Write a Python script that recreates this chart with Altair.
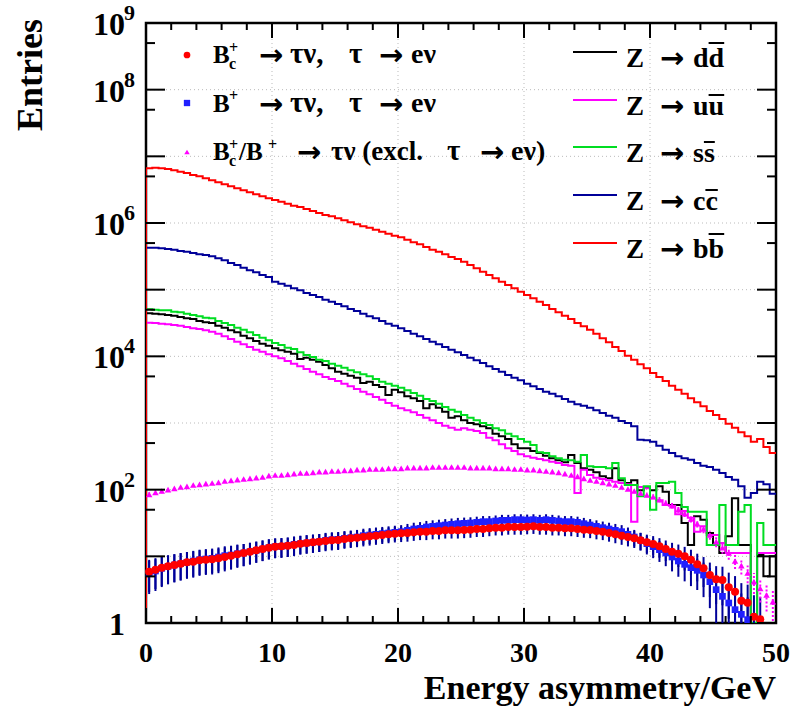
import altair as alt
import pandas as pd

# ---------------- data ----------------
# 100 bins of 0.5 GeV between 0 and 50 GeV; contents given as log10(entries)
BIN_WIDTH = 0.5
N_BINS = 100

z_dd_log10 = [
    4.645, 4.64, 4.63, 4.62, 4.61, 4.59, 4.57, 4.56, 4.53, 4.51,
    4.50, 4.46, 4.43, 4.39, 4.36, 4.31, 4.27, 4.23, 4.19, 4.16,
    4.12, 4.09, 4.07, 4.04, 3.96, 3.98, 3.95, 3.92, 3.87, 3.82,
    3.77, 3.74, 3.71, 3.68, 3.60, 3.62, 3.57, 3.54, 3.42, 3.50,
    3.46, 3.40, 3.37, 3.33, 3.22, 3.28, 3.23, 3.17, 3.08, 3.10,
    3.04, 3.00, 2.98, 2.95, 2.92, 2.84, 2.80, 2.76, 2.68, 2.62,
    2.62, 2.58, 2.55, 2.51, 2.47, 2.44, 2.41, 2.52, 2.40, 2.32,
    2.30, 2.26, 2.20, 2.17, 2.32, 2.14, 2.10, 2.14, 1.99, 2.04,
    1.99, 2.05, 1.97, 1.77, 1.77, 1.50, 1.17, 1.60, 1.55, 1.35,
    1.17, 1.05, 1.30, 1.87, 1.17, 1.17, 0.00, 1.02, 0.70, 1.00,
]
z_uu_log10 = [
    4.505, 4.50, 4.49, 4.48, 4.47, 4.46, 4.44, 4.42, 4.41, 4.39,
    4.37, 4.34, 4.30, 4.26, 4.22, 4.18, 4.14, 4.10, 4.07, 4.03,
    4.00, 3.97, 3.93, 3.89, 3.85, 3.81, 3.77, 3.73, 3.69, 3.66,
    3.63, 3.59, 3.55, 3.51, 3.47, 3.43, 3.39, 3.35, 3.30, 3.26,
    3.22, 3.19, 3.16, 3.12, 3.08, 3.04, 3.00, 2.96, 2.93, 2.90,
    2.92, 2.90, 2.88, 2.85, 2.78, 2.74, 2.68, 2.62, 2.58, 2.53,
    2.50, 2.48, 2.46, 2.44, 2.42, 2.40, 2.37, 2.36, 1.95, 2.30,
    2.22, 2.18, 2.16, 2.14, 2.12, 2.10, 2.08, 1.52, 2.04, 2.02,
    1.87, 1.84, 1.77, 1.76, 1.63, 1.68, 1.58, 1.37, 1.45, 1.32,
    1.32, 1.20, 1.05, 1.05, 1.05, 1.05, 0.00, 1.05, 1.05, 1.05,
]
z_ss_log10 = [
    4.705, 4.70, 4.69, 4.69, 4.67, 4.66, 4.64, 4.62, 4.60, 4.58,
    4.57, 4.53, 4.50, 4.47, 4.43, 4.40, 4.36, 4.32, 4.28, 4.24,
    4.20, 4.17, 4.13, 4.11, 4.06, 4.02, 3.99, 3.95, 3.93, 3.89,
    3.86, 3.83, 3.79, 3.76, 3.73, 3.70, 3.66, 3.62, 3.59, 3.56,
    3.53, 3.49, 3.45, 3.41, 3.36, 3.33, 3.29, 3.24, 3.20, 3.17,
    3.12, 3.08, 3.04, 3.00, 2.97, 2.92, 2.89, 2.84, 2.80, 2.76,
    2.72, 2.67, 2.56, 2.55, 2.50, 2.47, 2.45, 2.44, 2.42, 2.52,
    2.35, 2.34, 2.34, 2.32, 2.40, 2.17, 2.07, 2.07, 1.90, 2.05,
    1.70, 2.10, 2.10, 2.12, 1.95, 1.74, 1.67, 1.67, 1.67, 1.17,
    1.17, 1.77, 1.17, 1.17, 1.67, 1.77, 0.00, 1.50, 1.17, 1.17,
]
z_cc_log10 = [
    5.63, 5.63, 5.62, 5.61, 5.60, 5.58, 5.57, 5.55, 5.53, 5.52,
    5.50, 5.47, 5.44, 5.40, 5.37, 5.33, 5.29, 5.26, 5.22, 5.19,
    5.12, 5.09, 5.06, 5.02, 4.99, 4.95, 4.92, 4.89, 4.85, 4.82,
    4.785, 4.75, 4.71, 4.68, 4.64, 4.60, 4.57, 4.53, 4.49, 4.46,
    4.42, 4.38, 4.34, 4.30, 4.26, 4.22, 4.18, 4.14, 4.10, 4.06,
    4.02, 3.98, 3.94, 3.90, 3.85, 3.81, 3.77, 3.72, 3.68, 3.64,
    3.59, 3.55, 3.51, 3.47, 3.44, 3.40, 3.36, 3.32, 3.28, 3.26,
    3.23, 3.19, 3.15, 3.11, 3.08, 3.03, 3.00, 2.95, 2.75, 2.74,
    2.72, 2.66, 2.60, 2.55, 2.50, 2.47, 2.45, 2.40, 2.36, 2.34,
    2.30, 2.25, 2.19, 2.15, 2.05, 1.88, 1.95, 2.12, 2.08, 1.94,
]
z_bb_log10 = [
    6.82, 6.83, 6.82, 6.81, 6.79, 6.77, 6.75, 6.72, 6.70, 6.67,
    6.64, 6.61, 6.58, 6.55, 6.52, 6.49, 6.46, 6.43, 6.40, 6.37,
    6.345, 6.32, 6.29, 6.26, 6.24, 6.21, 6.18, 6.15, 6.12, 6.10,
    6.07, 6.04, 6.01, 5.98, 5.95, 5.93, 5.90, 5.87, 5.84, 5.81,
    5.785, 5.75, 5.71, 5.68, 5.64, 5.60, 5.57, 5.53, 5.49, 5.46,
    5.42, 5.37, 5.32, 5.27, 5.22, 5.17, 5.12, 5.07, 5.02, 4.97,
    4.92, 4.87, 4.82, 4.77, 4.71, 4.66, 4.61, 4.56, 4.50, 4.45,
    4.40, 4.34, 4.27, 4.21, 4.14, 4.08, 4.01, 3.95, 3.88, 3.82,
    3.75, 3.69, 3.63, 3.56, 3.50, 3.44, 3.37, 3.31, 3.25, 3.18,
    3.12, 3.06, 2.99, 2.93, 2.86, 2.80, 2.72, 2.76, 2.64, 2.55,
]
# signal samples (points at bin centres), log10(entries); None = empty bin
bc_taunu_log10 = [
    0.77, 0.80, 0.83, 0.85, 0.87, 0.89, 0.91, 0.92, 0.94, 0.95,
    0.955, 0.97, 0.99, 1.01, 1.03, 1.05, 1.07, 1.09, 1.11, 1.13,
    1.145, 1.15, 1.16, 1.17, 1.19, 1.20, 1.21, 1.22, 1.23, 1.24,
    1.245, 1.26, 1.27, 1.28, 1.29, 1.30, 1.31, 1.32, 1.33, 1.34,
    1.345, 1.35, 1.36, 1.37, 1.37, 1.38, 1.38, 1.39, 1.39, 1.39,
    1.395, 1.40, 1.41, 1.41, 1.42, 1.43, 1.43, 1.44, 1.44, 1.44,
    1.445, 1.45, 1.44, 1.44, 1.43, 1.43, 1.42, 1.42, 1.41, 1.40,
    1.395, 1.38, 1.37, 1.35, 1.33, 1.31, 1.29, 1.27, 1.24, 1.21,
    1.185, 1.15, 1.11, 1.07, 1.04, 1.00, 0.95, 0.88, 0.82, 0.72,
    0.655, 0.645, 0.535, 0.47, 0.335, 0.305, 0.095, 0.055, None, None,
]
bu_taunu_log10 = [
    0.75, 0.78, 0.82, 0.85, 0.87, 0.89, 0.91, 0.93, 0.95, 0.96,
    0.97, 0.99, 1.01, 1.02, 1.04, 1.05, 1.07, 1.09, 1.11, 1.13,
    1.145, 1.15, 1.16, 1.18, 1.19, 1.20, 1.21, 1.22, 1.24, 1.25,
    1.255, 1.27, 1.28, 1.29, 1.31, 1.32, 1.33, 1.34, 1.35, 1.36,
    1.37, 1.39, 1.41, 1.42, 1.44, 1.45, 1.46, 1.47, 1.48, 1.49,
    1.495, 1.50, 1.51, 1.52, 1.52, 1.53, 1.54, 1.54, 1.55, 1.55,
    1.545, 1.55, 1.54, 1.55, 1.54, 1.53, 1.52, 1.52, 1.51, 1.49,
    1.47, 1.45, 1.43, 1.41, 1.39, 1.37, 1.33, 1.29, 1.24, 1.19,
    1.145, 1.10, 1.05, 0.99, 0.93, 0.88, 0.83, 0.79, 0.72, 0.62,
    0.50, 0.40, 0.30, 0.20, 0.13, 0.05, None, None, None, None,
]
b_excl_log10 = [
    1.93, 1.96, 1.98, 2.00, 2.02, 2.04, 2.05, 2.07, 2.08, 2.09,
    2.10, 2.11, 2.13, 2.14, 2.15, 2.16, 2.17, 2.18, 2.19, 2.21,
    2.22, 2.22, 2.23, 2.24, 2.25, 2.25, 2.26, 2.27, 2.27, 2.28,
    2.28, 2.29, 2.29, 2.30, 2.30, 2.31, 2.31, 2.31, 2.32, 2.32,
    2.32, 2.33, 2.33, 2.33, 2.33, 2.34, 2.34, 2.34, 2.34, 2.34,
    2.34, 2.33, 2.33, 2.33, 2.33, 2.32, 2.32, 2.32, 2.31, 2.31,
    2.30, 2.30, 2.29, 2.28, 2.27, 2.26, 2.24, 2.22, 2.20, 2.17,
    2.145, 2.13, 2.11, 2.09, 2.07, 2.04, 2.01, 1.98, 1.95, 1.92,
    1.895, 1.85, 1.80, 1.76, 1.70, 1.64, 1.56, 1.49, 1.41, 1.32,
    1.22, 1.13, 1.05, 0.93, 0.86, 0.75, 0.62, 0.52, 0.42, 0.32,
]
# per-entry weights of the signal histograms (error = sqrt(weight * content))
signal_weight = {"bc": 1.5, "bu": 1.5, "excl": 0.5}

hist_names = ["dd", "uu", "ss", "cc", "bb"]
hist_colors = ["#000000", "#ff00ff", "#00dd22", "#000099", "#ff0000"]
hist_series = [z_dd_log10, z_uu_log10, z_ss_log10, z_cc_log10, z_bb_log10]

x_label_values = [0, 10, 20, 30, 40, 50]
x_minor_ticks = [2, 4, 6, 8, 12, 14, 16, 18, 22, 24, 26, 28, 32, 34, 36, 38, 42, 44, 46, 48]
y_major_ticks = [1, 1e1, 1e2, 1e3, 1e4, 1e5, 1e6, 1e7, 1e8, 1e9]
y_minor_ticks = [5, 5e1, 5e2, 5e3, 5e4, 5e5, 5e6, 5e7, 5e8]
x_grid = [10, 20, 30, 40]
y_grid = [1e1, 1e2, 1e3, 1e4, 1e5, 1e6, 1e7, 1e8]
y_label_values = [1e9, 1e8, 1e6, 1e4, 1e2, 1]
y_label_base = ["10", "10", "10", "10", "10", "1"]
y_label_exp = ["9", "8", "6", "4", "2", ""]

# ---------------- geometry ----------------
W, H = 630, 600
L, T = 146, 23
FONT = "Liberation Serif"
ARROW_FONT = "DejaVu Sans"
ONE = alt.Data(values=[{"a": 1}])

xs = alt.Scale(domain=[0, 50], nice=False, zero=False)
ys = alt.Scale(type="log", domain=[1, 1e9], nice=False)

# ---------------- tables ----------------
hist_rows = []
for name, ser in zip(hist_names, hist_series):
    vals = [10 ** v for v in ser]
    hist_rows.append({"s": name, "x": 0.0, "y": 1.0, "o": -1})
    for i, v in enumerate(vals):
        hist_rows.append({"s": name, "x": i * BIN_WIDTH, "y": v, "o": i})
    hist_rows.append({"s": name, "x": N_BINS * BIN_WIDTH, "y": vals[-1], "o": N_BINS})
hist_df = pd.DataFrame(hist_rows)


def point_table(series, w):
    rows = []
    for i, lv in enumerate(series):
        if lv is None:
            continue
        v = 10 ** lv
        e = (w * v) ** 0.5
        rows.append({"x": (i + 0.5) * BIN_WIDTH, "y": v,
                     "lo": max(v - e, 1.0), "hi": v + e})
    return pd.DataFrame(rows)


bc_df = point_table(bc_taunu_log10, signal_weight["bc"])
bu_df = point_table(bu_taunu_log10, signal_weight["bu"])
ex_df = point_table(b_excl_log10, signal_weight["excl"])

X = lambda f: alt.X(f, scale=xs, axis=None)
Y = lambda f: alt.Y(f, scale=ys, axis=None)

# ---------------- layers ----------------
layers = []
layers.append(alt.Chart(pd.DataFrame({"x": x_grid})).mark_rule(
    color="#bbbbbb", strokeDash=[1, 3], strokeWidth=1
).encode(x=X("x:Q"), y=alt.value(0), y2=alt.value(H)))
layers.append(alt.Chart(pd.DataFrame({"y": y_grid})).mark_rule(
    color="#bbbbbb", strokeDash=[1, 3], strokeWidth=1
).encode(y=Y("y:Q"), x=alt.value(0), x2=alt.value(W)))

for name, col in zip(hist_names, hist_colors):
    layers.append(
        alt.Chart(hist_df[hist_df.s == name]).mark_line(
            interpolate="step-after", color=col, strokeWidth=2, clip=True
        ).encode(x=X("x:Q"), y=Y("y:Q"), order="o:Q")
    )


def err_layer(df, color, dash=None):
    kw = {"color": color, "strokeWidth": 2, "clip": True}
    if dash:
        kw["strokeDash"] = dash
    return alt.Chart(df).mark_rule(**kw).encode(
        x=X("x:Q"), y=Y("lo:Q"), y2="hi:Q")


layers += [err_layer(bu_df, "#000099"), err_layer(bc_df, "#000099"),
           err_layer(ex_df, "#ff00ff", [2, 2])]

layers.append(alt.Chart(bu_df).mark_point(
    shape="square", filled=True, color="#2020ff", size=45, opacity=1
).encode(x=X("x:Q"), y=Y("y:Q")))
layers.append(alt.Chart(bc_df).mark_point(
    shape="circle", filled=True, color="#ff0000", size=65, opacity=1
).encode(x=X("x:Q"), y=Y("y:Q")))
layers.append(alt.Chart(ex_df).mark_point(
    shape="triangle-up", filled=True, color="#ff00ff", size=42, opacity=1
).encode(x=X("x:Q"), y=Y("y:Q")))

# inward ticks on all four sides
for vals, lenv in ((x_label_values, 15), (x_minor_ticks, 7)):
    d = pd.DataFrame({"x": vals})
    layers.append(alt.Chart(d).mark_rule(color="black", strokeWidth=2).encode(
        x=X("x:Q"), y=alt.value(H), y2=alt.value(H - lenv)))
    layers.append(alt.Chart(d).mark_rule(color="black", strokeWidth=2).encode(
        x=X("x:Q"), y=alt.value(0), y2=alt.value(lenv)))
for vals, lenv in ((y_major_ticks, 19), (y_minor_ticks, 9)):
    d = pd.DataFrame({"y": vals})
    layers.append(alt.Chart(d).mark_rule(color="black", strokeWidth=2).encode(
        y=Y("y:Q"), x=alt.value(0), x2=alt.value(lenv)))
    layers.append(alt.Chart(d).mark_rule(color="black", strokeWidth=2).encode(
        y=Y("y:Q"), x=alt.value(W), x2=alt.value(W - lenv)))

# x tick labels
layers.append(alt.Chart(pd.DataFrame({"x": x_label_values})).mark_text(
    font=FONT, fontWeight="bold", fontSize=28, align="center", baseline="top",
    color="black"
).encode(x=X("x:Q"), y=alt.value(H + 17), text=alt.Text("x:Q", format="d")))

# y tick labels with raised exponents
ylab = pd.DataFrame({"y": y_label_values, "base": y_label_base, "exp": y_label_exp})
layers.append(alt.Chart(ylab).mark_text(
    font=FONT, fontWeight="bold", fontSize=32, align="right", baseline="middle",
    dy=2, color="black"
).encode(y=Y("y:Q"), x=alt.value(-21), text="base:N"))
layers.append(alt.Chart(ylab[ylab.exp != ""]).mark_text(
    font=FONT, fontWeight="bold", fontSize=22, align="left", baseline="middle",
    dy=-10, color="black"
).encode(y=Y("y:Q"), x=alt.value(-22), text="exp:N"))


# ---------------- texts placed in pixels (legend, titles) ----------------
def txt(t, px, py, fs, **kw):
    props = dict(font=FONT, fontWeight="bold", align="left", baseline="alphabetic",
                 color="black", fontSize=fs)
    props.update(kw)
    return alt.Chart(ONE).mark_text(**props).encode(
        x=alt.value(px - L), y=alt.value(py - T), text=alt.value(t))


def arrow(px, py, fs=29):
    return txt("→", px, py, fs, font=ARROW_FONT, baseline="middle")


legend_pieces = [
    ("B", 213, 63, 25), ("+", 229, 53, 16), ("c", 229, 69, 16),
    ("τν,", 290, 63, 29), ("τ", 349, 63, 29), ("eν", 411, 63, 28),
    ("B", 213, 112, 25), ("+", 229, 101, 16),
    ("τν,", 290, 112, 29), ("τ", 349, 112, 29), ("eν", 411, 112, 28),
    ("B", 213, 160, 25), ("+", 229, 150, 16), ("c", 229, 166, 16),
    ("/B", 239, 160, 25), ("+", 268, 150, 16),
    ("τν (excl.", 331, 160, 27), ("τ", 447, 160, 29), ("eν)", 511, 160, 28),
]
arrows = [(259, 56), (379, 56), (259, 105), (379, 105), (297, 153), (480, 153)]
rights = [("dd", 67), ("uu", 115), ("ss", 162), ("cc", 210), ("bb", 258)]
for pair, base in rights:
    legend_pieces.append(("Z", 626, base, 27))
    legend_pieces.append((pair, 693, base, 28))
    arrows.append((660, base - 8))
for t, px, py, fs in legend_pieces:
    layers.append(txt(t, px, py, fs))
for px, py in arrows:
    layers.append(arrow(px, py))

# overbars on the antiquarks
char_w = {"d": 15.6, "u": 15.6, "s": 10.9, "c": 12.4, "b": 15.6}
for pair, base in rights:
    ch = pair[1]
    x0 = 693 + char_w[ch]
    top = base - (24 if ch in "db" else 20)
    layers.append(alt.Chart(ONE).mark_rule(color="black", strokeWidth=2).encode(
        x=alt.value(x0 - L), x2=alt.value(x0 + char_w[ch] - L), y=alt.value(top - T)))

# legend line samples
for yy, col in zip([52, 100, 147, 195, 243], hist_colors):
    layers.append(alt.Chart(ONE).mark_rule(color=col, strokeWidth=2).encode(
        x=alt.value(573 - L), x2=alt.value(617 - L), y=alt.value(yy - T)))

# legend markers
for yy, shp, col, sz in zip([55, 103, 152], ["circle", "square", "triangle-up"],
                            ["#ff0000", "#2020ff", "#ff00ff"], [45, 40, 30]):
    layers.append(alt.Chart(ONE).mark_point(
        shape=shp, filled=True, color=col, size=sz, opacity=1
    ).encode(x=alt.value(187 - L), y=alt.value(yy - T)))

# axis titles
layers.append(txt("Energy asymmetry/GeV", 776, 699, 34, align="right"))
layers.append(txt("Entries", 31, 19, 36, align="right", baseline="middle", angle=270))

chart = alt.layer(*layers).properties(
    width=W, height=H,
    autosize=alt.AutoSizeParams(type="none"),
    padding={"left": L, "top": T, "right": 794 - L - W, "bottom": 709 - T - H},
    background="white",
).configure_view(stroke="black", strokeWidth=2.5)

chart.save("out.html", embed_options={"renderer": "svg", "actions": False})
